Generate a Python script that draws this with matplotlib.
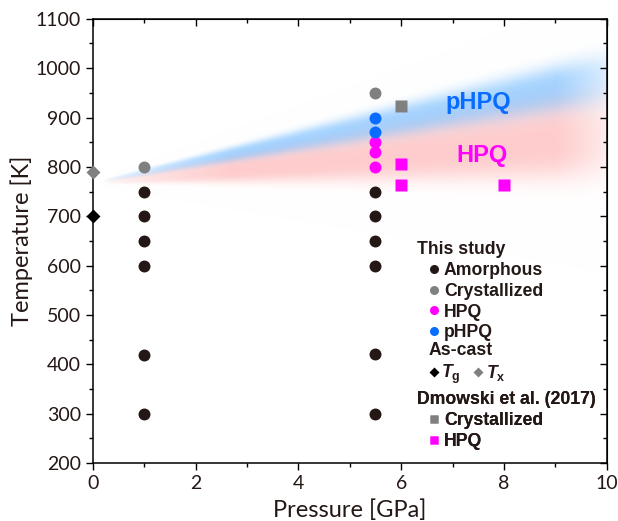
import numpy as np
import matplotlib
matplotlib.use("Agg")
import matplotlib.pyplot as plt
from matplotlib.lines import Line2D
from matplotlib.ticker import MultipleLocator

# ---- data ----
amorph_p = [1, 1, 1, 1, 1, 1, 5.5, 5.5, 5.5, 5.5, 5.5, 5.5]
amorph_t = [750, 700, 650, 600, 420, 300, 750, 700, 650, 600, 422, 300]
cryst_p = [1, 5.5]
cryst_t = [800, 950]
hpq_p = [5.5, 5.5, 5.5]
hpq_t = [850, 830, 800]
phpq_p = [5.5, 5.5]
phpq_t = [900, 870]
tg_p, tg_t = [0], [700]
tx_p, tx_t = [0], [790]
dm_cryst_p, dm_cryst_t = [6], [923]
dm_hpq_p = [6, 6, 8]
dm_hpq_t = [805, 763, 763]

DARK = '#231815'
GRAY = '#808080'
MAG = '#ff00ff'
BLUE = '#0a6cff'

plt.rcParams['mathtext.fontset'] = 'custom'
plt.rcParams['mathtext.it'] = 'Liberation Sans:italic:bold'
plt.rcParams['mathtext.bf'] = 'Liberation Sans:bold'
plt.rcParams['mathtext.rm'] = 'Liberation Sans:bold'

fig = plt.figure(figsize=(6.18, 5.21), dpi=100)
ax = fig.add_axes([0.150, 0.111, 0.832, 0.853])

# shaded fans for the two phases
xs = np.linspace(0, 10, 500)
ys = np.linspace(200, 1100, 900)
X, Y = np.meshgrid(xs, ys)
fade = np.clip((X - 0.2) / 2.5, 0, 1) ** 0.6 * np.clip((10.3 - X) / 1.3, 0, 1) ** 0.7
d_b = np.abs((Y - (767 + 21 * X)) / (2 + 5.2 * X))
d_r = np.abs((Y - (766 + 9.5 * X)) / (2 + 8.3 * X))
a_b = 0.62 * np.exp(-d_b ** 3) * fade
a_r = 0.5 * np.exp(-d_r ** 3) * fade
blue_c = np.array([0.42, 0.72, 1.0])
red_c = np.array([1.0, 0.6, 0.6])
img = np.ones(X.shape + (3,))
img = img * (1 - a_b[..., None]) + blue_c * a_b[..., None]
img = img * (1 - a_r[..., None]) + red_c * a_r[..., None]
ax.imshow(img, extent=[0, 10, 200, 1100], origin='lower', aspect='auto',
          zorder=0, interpolation='bilinear')

ms_c = 8.6
ax.plot(amorph_p, amorph_t, 'o', color=DARK, ms=ms_c, mec='none', zorder=3)
ax.plot(cryst_p, cryst_t, 'o', color=GRAY, ms=ms_c, mec='none', zorder=3)
ax.plot(hpq_p, hpq_t, 'o', color=MAG, ms=ms_c, mec='none', zorder=3)
ax.plot(phpq_p, phpq_t, 'o', color=BLUE, ms=ms_c, mec='none', zorder=3)
ax.plot(tg_p, tg_t, 'D', color='black', ms=7.2, mec='none', zorder=4, clip_on=False)
ax.plot(tx_p, tx_t, 'D', color=GRAY, ms=7.2, mec='none', zorder=4, clip_on=False)
ax.plot(dm_cryst_p, dm_cryst_t, 's', color=GRAY, ms=8.2, mec='none', zorder=3)
ax.plot(dm_hpq_p, dm_hpq_t, 's', color=MAG, ms=8.2, mec='none', zorder=3)

ax.text(7.5, 930, 'pHPQ', color=BLUE, fontsize=17, fontweight='bold',
        family='Liberation Sans', ha='center', va='center')
ax.text(7.57, 824, 'HPQ', color=MAG, fontsize=17, fontweight='bold',
        family='Liberation Sans', ha='center', va='center')

ax.set_xlim(0, 10)
ax.set_ylim(200, 1100)
ax.xaxis.set_major_locator(MultipleLocator(2))
ax.xaxis.set_minor_locator(MultipleLocator(1))
ax.yaxis.set_major_locator(MultipleLocator(100))
ax.yaxis.set_minor_locator(MultipleLocator(50))
ax.tick_params(which='both', direction='out', width=1, colors='black',
               labelcolor=DARK, labelsize=14)
ax.tick_params(which='major', length=5)
ax.tick_params(which='minor', length=3)
for lab in ax.get_xticklabels() + ax.get_yticklabels():
    lab.set_family('Lato')
for s in ax.spines.values():
    s.set_linewidth(1.1)

top = ax.secondary_xaxis('top')
top.xaxis.set_major_locator(MultipleLocator(2))
top.xaxis.set_minor_locator(MultipleLocator(1))
top.tick_params(which='both', direction='in', labeltop=False, width=1)
top.tick_params(which='major', length=5)
top.tick_params(which='minor', length=3)
right = ax.secondary_yaxis('right')
right.yaxis.set_major_locator(MultipleLocator(100))
right.yaxis.set_minor_locator(MultipleLocator(50))
right.tick_params(which='both', direction='in', labelright=False, width=1)
right.tick_params(which='major', length=5)
right.tick_params(which='minor', length=3)

ax.set_xlabel('Pressure [GPa]', fontsize=17, family='Lato', color=DARK, labelpad=5)
ax.set_ylabel('Temperature [K]', fontsize=17, family='Lato', color=DARK, labelpad=2)

# legends
lfont = {'family': 'Liberation Sans', 'weight': 'bold', 'size': 12.7}


def make_leg(handles, labels, title, anchor, hl, tp, ncol=1, cs=0.0):
    lg = ax.legend(handles, labels, title=title, loc='upper left',
                   bbox_to_anchor=anchor, frameon=False, prop=lfont,
                   title_fontproperties=lfont, alignment='left',
                   handlelength=hl, handletextpad=tp, borderpad=0,
                   borderaxespad=0, labelspacing=0.22, ncol=ncol,
                   columnspacing=cs, labelcolor=DARK)
    lg.get_title().set_color(DARK)
    ax.add_artist(lg)
    return lg


def h(marker, color, ms):
    return Line2D([], [], ls='none', marker=marker, color=color, ms=ms, mec='none')


make_leg([h('o', DARK, 6.5), h('o', GRAY, 6.5), h('o', MAG, 6.5), h('o', BLUE, 6.5)],
         ['Amorphous', 'Crystallized', 'HPQ', 'pHPQ'],
         'This study', (0.630, 0.500), 2.0, -0.45)
make_leg([h('D', 'black', 4.6), h('D', GRAY, 4.6)],
         [r'$\mathit{T}_\mathbf{g}$', r'$\mathit{T}_\mathbf{x}$'],
         'As-cast', (0.654, 0.272), 0.55, 0.15, ncol=2, cs=0.7)
make_leg([h('s', GRAY, 6), h('s', MAG, 6)],
         ['Crystallized', 'HPQ'],
         'Dmowski et al. (2017)', (0.630, 0.162), 2.0, -0.45)

fig.savefig('out.png', dpi=100)
